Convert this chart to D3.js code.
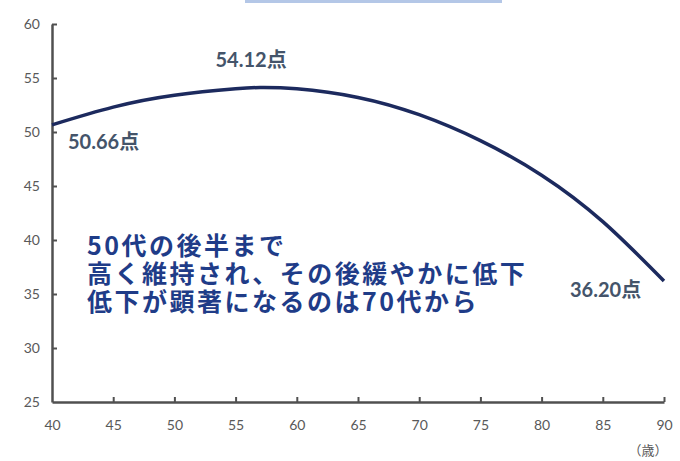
<html>
<head>
<meta charset="utf-8">
<script src="https://d3js.org/d3.v7.min.js"></script>
<style>
  body { margin: 0; background: #fff; }
  .tick text { font-family: Lato, "Noto Sans CJK JP", sans-serif; font-size: 14px; fill: #595959; }
  .lbl { font-family: Lato, "Noto Sans CJK JP", sans-serif; font-size: 20px; font-weight: 700; fill: #44546a; }
  .note { font-family: "Noto Sans CJK JP", sans-serif; font-size: 25px; font-weight: 700; fill: #1f3c88; letter-spacing: 2.5px; }
</style>
</head>
<body>
<svg width="680" height="461"></svg>
<script>
// ages and scores
var ages   = [40, 45, 50, 55, 57, 60, 65, 70, 75, 80, 85, 90];
var scores = [50.66, 52.3, 53.4, 54.0, 54.12, 54.0, 53.2, 51.6, 49.2, 46.0, 41.7, 36.2];
var xTicks = [40, 45, 50, 55, 60, 65, 70, 75, 80, 85, 90];
var yTicks = [25, 30, 35, 40, 45, 50, 55, 60];
var labels = [
  {age: 40, v: 50.66, text: "50.66点"},
  {age: 57, v: 54.12, text: "54.12点"},
  {age: 90, v: 36.20, text: "36.20点"}
];
var noteLines = ["50代の後半まで", "高く維持され、その後緩やかに低下", "低下が顕著になるのは70代から"];

var svg = d3.select("svg");

var x = d3.scaleLinear().domain([40, 90]).range([52, 664]);
var y = d3.scaleLinear().domain([25, 60]).range([402, 24]);

// bit of a box cut off at the top
svg.append("line")
  .attr("x1", 245).attr("x2", 502).attr("y1", 1.5).attr("y2", 1.5)
  .attr("stroke", "#b4c7e7").attr("stroke-width", 3);

var yAxis = svg.append("g")
  .attr("transform", "translate(" + x(40) + ",0)")
  .call(d3.axisLeft(y).tickValues(yTicks).tickSizeInner(-5).tickSizeOuter(0).tickPadding(12));

var xAxis = svg.append("g")
  .attr("transform", "translate(0," + y(25) + ")")
  .call(d3.axisBottom(x).tickValues(xTicks).tickSizeInner(-5).tickSizeOuter(0).tickPadding(18));

[yAxis, xAxis].forEach(function(g) {
  g.select(".domain").attr("stroke", "#505050").attr("stroke-width", 2.5);
  g.selectAll(".tick line").attr("stroke", "#505050").attr("stroke-width", 2);
});
xAxis.selectAll(".tick").filter(function(d) { return d == 40; }).select("line").remove();
yAxis.selectAll(".tick").filter(function(d) { return d == 25; }).select("line").remove();

svg.append("text")
  .attr("x", 648).attr("y", 455)
  .attr("text-anchor", "middle")
  .style("font-family", "'Noto Sans CJK JP', sans-serif")
  .style("font-size", "13px").style("fill", "#595959")
  .text("（歳）");

var line = d3.line()
  .x(function(d, i) { return x(ages[i]); })
  .y(function(d) { return y(d); })
  .curve(d3.curveNatural);

svg.append("path")
  .datum(scores)
  .attr("d", line)
  .attr("fill", "none")
  .attr("stroke", "#1c2a5e")
  .attr("stroke-width", 3.5);

var offs = [[16, 24], [-9, -21], [-94, 16]];
svg.selectAll(".lbl")
  .data(labels)
  .enter()
  .append("text")
  .attr("class", "lbl")
  .attr("x", function(d, i) { return x(d.age) + offs[i][0]; })
  .attr("y", function(d, i) { return y(d.v) + offs[i][1]; })
  .attr("text-anchor", function(d, i) { return i == 1 ? "middle" : "start"; })
  .text(function(d) { return d.text; });

// the note is one text block, three lines
svg.append("text")
  .attr("class", "note")
  .attr("y", 255)
  .selectAll("tspan")
  .data(noteLines)
  .enter()
  .append("tspan")
  .attr("x", 87)
  .attr("dy", function(d, i) { return i == 0 ? 0 : 28; })
  .text(function(d) { return d; });
</script>
</body>
</html>
